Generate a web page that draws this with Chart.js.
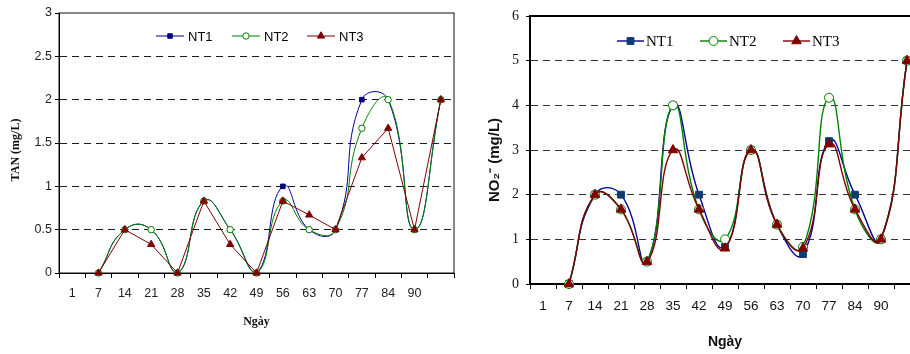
<!DOCTYPE html>
<html>
<head>
<meta charset="utf-8">
<script src="https://cdn.jsdelivr.net/npm/chart.js@4/dist/chart.umd.min.js"></script>
<style>
  body { margin: 0; overflow: hidden; background: #fff; width: 910px; height: 354px; position: relative; }
  #tan { position: absolute; left: 0; top: 0; }
  #no2 { position: absolute; left: 460px; top: 0; }
</style>
</head>
<body>
<canvas id="tan" width="460" height="354"></canvas>
<canvas id="no2" width="470" height="354"></canvas>
<script>
// x categories (last one has no label)
const days = ['1', '7', '14', '21', '28', '35', '42', '49', '56', '63', '70', '77', '84', '90', '']
const seriesNames = ['NT1', 'NT2', 'NT3']

// TAN (mg/L)
const tanNT1 = [null, 0, 0.5, 0.5, 0, 0.83, 0.5, 0, 1.0, 0.5, 0.5, 2.0, 2.0, 0.5, 2.0]
const tanNT2 = [null, 0, 0.5, 0.5, 0, 0.83, 0.5, 0, 0.83, 0.5, 0.5, 1.67, 2.0, 0.5, 2.0]
const tanNT3 = [null, 0, 0.5, 0.33, 0, 0.83, 0.33, 0, 0.83, 0.67, 0.5, 1.33, 1.67, 0.5, 2.0]
const tanTicks = [0, 0.5, 1, 1.5, 2, 2.5, 3]

// NO2- (mg/L)
const no2NT1 = [null, 0, 2, 2, 0.5, 4, 2, 0.83, 3, 1.33, 0.67, 3.2, 2, 1, 5]
const no2NT2 = [null, 0, 2, 1.67, 0.5, 4, 1.67, 1.0, 3, 1.33, 0.83, 4.17, 1.67, 1, 5]
const no2NT3 = [null, 0, 2, 1.67, 0.5, 3, 1.67, 0.8, 3, 1.33, 0.8, 3.13, 1.67, 1, 5]
const no2Ticks = [0, 1, 2, 3, 4, 5, 6]

const SANS = '"Liberation Sans", Arial, sans-serif'
const SERIF = '"Liberation Serif", "Times New Roman", serif'

// box / axis lines around the plot area
const framePlugin = {
  id: 'frame',
  beforeDatasetsDraw(chart, args, opts) {
    const {ctx, chartArea: a} = chart
    ctx.save()
    ctx.strokeStyle = opts.color
    ctx.lineWidth = opts.width
    ctx.strokeRect(a.left, a.top, a.right - a.left, a.bottom - a.top)
    ctx.restore()
  }
}

// rotated y-axis title, placed by hand
const yTitle = {
  id: 'yTitle',
  afterDraw(chart, args, opts) {
    const ctx = chart.ctx
    ctx.save()
    ctx.translate(opts.x, opts.y)
    ctx.rotate(-Math.PI / 2)
    ctx.font = opts.font
    ctx.fillStyle = '#111'
    ctx.textAlign = 'center'
    ctx.textBaseline = 'middle'
    ctx.fillText(opts.text, 0, 0)
    ctx.restore()
  }
}

// legend drawn inside the plot: line + marker + text
const lineLegend = {
  id: 'lineLegend',
  afterDraw(chart, args, opts) {
    const ctx = chart.ctx
    ctx.save()
    ctx.font = opts.font
    ctx.textBaseline = 'middle'
    chart.data.datasets.forEach((ds, i) => {
      const it = opts.items[i]
      ctx.strokeStyle = ds.borderColor
      ctx.lineWidth = ds.borderWidth
      ctx.beginPath()
      ctx.moveTo(it.x, opts.y)
      ctx.lineTo(it.x + opts.len, opts.y)
      ctx.stroke()
      ctx.fillStyle = ds.pointBackgroundColor
      ctx.strokeStyle = ds.pointBorderColor
      ctx.lineWidth = ds.pointBorderWidth
      Chart.helpers.drawPoint(ctx, {pointStyle: ds.pointStyle, radius: ds.pointRadius, rotation: 0, borderWidth: ds.pointBorderWidth}, it.x + opts.len / 2, opts.y)
      ctx.fillStyle = '#000'
      ctx.fillText(ds.label, it.x + opts.len + opts.gap, opts.y + 1)
    })
    ctx.restore()
  }
}

function makeDatasets(values, sizes, tensions, lineW, nt1Fill) {
  const styles = [
    {line: '#000099', fill: nt1Fill, border: nt1Fill, shape: 'rect'},
    {line: '#008000', fill: '#ffffff', border: '#008000', shape: 'circle'},
    {line: '#800000', fill: '#800000', border: '#800000', shape: 'triangle'}
  ]
  return values.map((data, i) => ({
    label: seriesNames[i],
    data: data,
    borderColor: styles[i].line,
    borderWidth: lineW,
    pointStyle: styles[i].shape,
    pointBackgroundColor: styles[i].fill,
    pointBorderColor: styles[i].border,
    pointBorderWidth: 1,
    pointRadius: sizes[i],
    tension: tensions[i],
    order: 3 - i,
    clip: 8
  }))
}

new Chart(document.getElementById('tan'), {
  type: 'line',
  data: {
    labels: days,
    datasets: makeDatasets([tanNT1, tanNT2, tanNT3], [3.2, 3.2, 4.2], [0.5, 0.5, 0], 1, '#000080')
  },
  plugins: [framePlugin, lineLegend, yTitle],
  options: {
    responsive: false,
    animation: false,
    layout: { padding: { top: 13, right: 6, left: 0, bottom: 0 } },
    plugins: {
      legend: { display: false },
      tooltip: { enabled: false },
      frame: { color: '#111', width: 1 },
      yTitle: { text: 'TAN (mg/L)', x: 16, y: 150, font: 'bold 12px ' + SERIF },
      lineLegend: { y: 36, len: 28, gap: 4, font: '13px ' + SANS, items: [{x: 156}, {x: 232}, {x: 307}] }
    },
    scales: {
      x: {
        offset: true,
        grid: { offset: true, drawOnChartArea: false, tickLength: 5, tickColor: '#000' },
        border: { color: '#000', width: 1 },
        ticks: { color: '#222', font: { family: SANS, size: 12.5 }, padding: 8, maxRotation: 0, autoSkip: false },
        title: { display: true, text: 'Ngày', color: '#111', font: { family: SERIF, size: 12, weight: 'bold' }, padding: { bottom: 25 } },
        afterFit: s => { s.height = 81 }
      },
      y: {
        min: 0, max: 3,
        afterBuildTicks: s => { s.ticks = tanTicks.map(v => ({ value: v })) },
        grid: { color: c => (c.tick && (c.tick.value === 0 || c.tick.value === 3)) ? 'rgba(0,0,0,0)' : '#1a1a1a', tickColor: '#000', tickLength: 4 },
        border: { color: '#000', width: 1, dash: [7, 5] },
        ticks: { color: '#222', font: { family: SANS, size: 12.5 }, padding: 3, callback: v => String(v) },
        afterFit: s => { s.width = 59 }
      }
    }
  }
})

new Chart(document.getElementById('no2'), {
  type: 'line',
  data: {
    labels: days,
    datasets: makeDatasets([no2NT1, no2NT2, no2NT3], [4.8, 4.5, 5.5], [0.5, 0.5, 0.5], 1.4, '#0b3b70')
  },
  plugins: [framePlugin, lineLegend, yTitle],
  options: {
    responsive: false,
    animation: false,
    layout: { padding: { top: 16, right: 10, left: 0, bottom: 0 } },
    plugins: {
      legend: { display: false },
      tooltip: { enabled: false },
      frame: { color: '#000', width: 2 },
      yTitle: { text: 'NO₂⁻ (mg/L)', x: 35, y: 160, font: 'bold 15px ' + SANS },
      lineLegend: { y: 41, len: 27, gap: 2, font: '15px ' + SERIF, items: [{x: 157}, {x: 240}, {x: 323}] }
    },
    scales: {
      x: {
        offset: true,
        grid: { offset: true, drawOnChartArea: false, tickLength: 5, tickColor: '#000' },
        border: { color: '#000', width: 2 },
        ticks: { color: '#111', font: { family: SANS, size: 13.5 }, padding: 9, maxRotation: 0, autoSkip: false },
        title: { display: true, text: 'Ngày', color: '#111', font: { family: SANS, size: 14, weight: 'bold' }, padding: { bottom: 3 } },
        afterFit: s => { s.height = 70 }
      },
      y: {
        min: 0, max: 6,
        afterBuildTicks: s => { s.ticks = no2Ticks.map(v => ({ value: v })) },
        grid: { color: c => (c.tick && (c.tick.value === 0 || c.tick.value === 6)) ? 'rgba(0,0,0,0)' : '#333', tickColor: '#000', tickLength: 4 },
        border: { color: '#000', width: 2, dash: [7, 5] },
        ticks: { color: '#111', font: { family: SERIF, size: 14 }, padding: 7, callback: v => String(v) },
        afterFit: s => { s.width = 70 }
      }
    }
  }
})
</script>
</body>
</html>
